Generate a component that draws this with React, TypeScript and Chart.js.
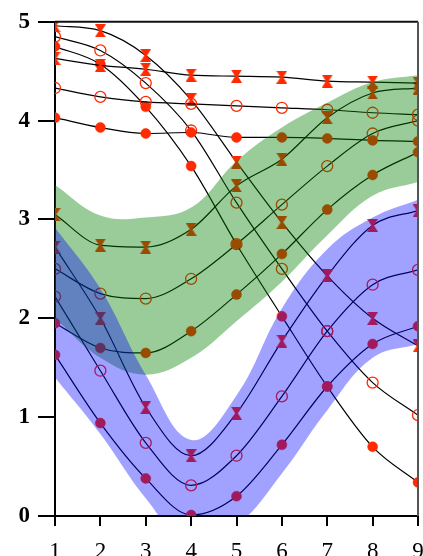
import React, { useEffect, useRef } from "react";
import { Chart, registerables } from "chart.js";

Chart.register(...registerables);

const xValues = [1, 2, 3, 4, 5, 6, 7, 8, 9];
const yTicks = [0, 1, 2, 3, 4, 5];

// upper flat curves
const flatHourglass = [4.63, 4.56, 4.52, 4.46, 4.45, 4.44, 4.4, 4.39, 4.38];
const flatCircle = [4.33, 4.24, 4.19, 4.17, 4.15, 4.13, 4.11, 4.08, 4.06];
const flatFilled = [4.03, 3.93, 3.87, 3.88, 3.83, 3.83, 3.82, 3.8, 3.79];
// falling curves
const fallHourglass = [4.96, 4.91, 4.66, 4.21, 3.58, 2.97, 2.43, 2.0, 1.72];
const fallCircle = [4.85, 4.71, 4.38, 3.9, 3.17, 2.5, 1.87, 1.35, 1.02];
const fallFilled = [4.75, 4.57, 4.14, 3.54, 2.75, 2.02, 1.31, 0.7, 0.34];
// curves in the green band
const greenHourglass = [3.05, 2.74, 2.72, 2.9, 3.34, 3.61, 4.03, 4.28, 4.33];
const greenCircle = [2.5, 2.25, 2.2, 2.4, 2.75, 3.15, 3.54, 3.87, 4.0];
const greenFilled = [1.95, 1.7, 1.65, 1.87, 2.24, 2.65, 3.1, 3.45, 3.68];
// curves in the blue band
const blueHourglass = [2.72, 2.0, 1.1, 0.61, 1.04, 1.77, 2.43, 2.94, 3.09];
const blueCircle = [2.22, 1.47, 0.74, 0.31, 0.61, 1.21, 1.87, 2.34, 2.49];
const blueFilled = [1.63, 0.94, 0.38, 0.01, 0.2, 0.72, 1.31, 1.74, 1.92];
// bands
const greenTop = [3.35, 3.04, 3.02, 3.12, 3.59, 3.93, 4.18, 4.39, 4.46];
const greenBottom = [2.0, 1.6, 1.43, 1.6, 1.97, 2.37, 2.84, 3.24, 3.38];
const blueTop = [2.92, 2.3, 1.43, 0.77, 1.22, 2.1, 2.7, 3.02, 3.2];
const blueBottom = [1.4, 0.83, 0.18, -0.3, -0.1, 0.43, 1.07, 1.6, 1.74];

const MARK = "#ff2a00";

function makeHourglass(color: string) {
  const c = document.createElement("canvas");
  c.width = 11;
  c.height = 13;
  const g = c.getContext("2d")!;
  g.fillStyle = color;
  g.beginPath();
  g.moveTo(0, 0);
  g.lineTo(11, 0);
  g.lineTo(6.5, 7);
  g.lineTo(4.5, 7);
  g.closePath();
  g.fill();
  g.beginPath();
  g.moveTo(0, 13);
  g.lineTo(11, 13);
  g.lineTo(6.5, 6);
  g.lineTo(4.5, 6);
  g.closePath();
  g.fill();
  return c;
}

function pts(arr: number[]) {
  return arr.map((y, i) => ({ x: xValues[i], y }));
}

function curve(arr: number[], kind: string, hg: HTMLCanvasElement) {
  const base: any = {
    data: pts(arr),
    borderColor: "#000",
    borderWidth: 1.2,
    cubicInterpolationMode: "monotone",
    fill: false,
    order: 3,
  };
  if (kind === "hourglass") {
    base.pointStyle = hg;
    base.pointRadius = 5;
  } else if (kind === "circle") {
    base.pointStyle = "circle";
    base.pointRadius = 5.5;
    base.pointBackgroundColor = "rgba(0,0,0,0)";
    base.pointBorderColor = MARK;
    base.pointBorderWidth = 1.3;
  } else {
    base.pointStyle = "circle";
    base.pointRadius = 5;
    base.pointBackgroundColor = MARK;
    base.pointBorderColor = MARK;
    base.pointBorderWidth = 0.5;
  }
  return base;
}

function band(arr: number[], color: string | false, order: number) {
  return {
    data: pts(arr),
    borderColor: "rgba(0,0,0,0)",
    borderWidth: 0,
    pointRadius: 0,
    tension: 0.4,
    fill: color ? "+1" : false,
    backgroundColor: color || "rgba(0,0,0,0)",
    order,
  };
}

const clipPlugin = {
  id: "clipArea",
  beforeDatasetsDraw(chart: any) {
    const { ctx, chartArea } = chart;
    ctx.save();
    ctx.beginPath();
    ctx.rect(
      chartArea.left,
      chartArea.top,
      chartArea.right - chartArea.left,
      chartArea.bottom - chartArea.top
    );
    ctx.clip();
  },
  afterDatasetsDraw(chart: any) {
    chart.ctx.restore();
  },
};

const framePlugin = {
  id: "frame",
  afterDraw(chart: any) {
    const { ctx, chartArea } = chart;
    ctx.save();
    ctx.lineWidth = 2;
    ctx.strokeStyle = "#111";
    ctx.beginPath();
    ctx.moveTo(chartArea.left, chartArea.top);
    ctx.lineTo(chartArea.right, chartArea.top);
    ctx.stroke();
    ctx.strokeStyle = "#555";
    ctx.beginPath();
    ctx.moveTo(chartArea.right, chartArea.top);
    ctx.lineTo(chartArea.right, chartArea.bottom);
    ctx.stroke();
    ctx.restore();
  },
};

export default function App() {
  const ref = useRef<HTMLCanvasElement>(null);
  useEffect(() => {
    const hg = makeHourglass(MARK);
    const chart = new Chart(ref.current!, {
      type: "line",
      data: {
        datasets: [
          curve(flatHourglass, "hourglass", hg),
          curve(flatCircle, "circle", hg),
          curve(flatFilled, "filled", hg),
          curve(fallHourglass, "hourglass", hg),
          curve(fallCircle, "circle", hg),
          curve(fallFilled, "filled", hg),
          curve(greenHourglass, "hourglass", hg),
          curve(greenCircle, "circle", hg),
          curve(greenFilled, "filled", hg),
          curve(blueHourglass, "hourglass", hg),
          curve(blueCircle, "circle", hg),
          curve(blueFilled, "filled", hg),
          band(greenTop, "rgba(0,128,0,0.4)", 2),
          band(greenBottom, false, 2),
          band(blueTop, "rgba(0,0,255,0.37)", 1),
          band(blueBottom, false, 1),
        ] as any,
      },
      options: {
        animation: false,
        responsive: true,
        maintainAspectRatio: false,
        devicePixelRatio: 1,
        layout: { padding: { top: 18, right: 5, left: 0, bottom: 0 }, autoPadding: false },
        plugins: {
          legend: { display: false },
          tooltip: { enabled: false },
          filler: { propagate: false },
        },
        scales: {
          x: {
            type: "linear",
            min: 1,
            max: 9,
            afterBuildTicks: (s: any) => {
              s.ticks = xValues.map((v) => ({ value: v }));
            },
            afterFit: (s: any) => {
              s.height = 40;
              s.paddingLeft = 0;
              s.paddingRight = 0;
            },
            grid: {
              drawOnChartArea: false,
              drawTicks: true,
              tickLength: 10,
              color: "#000",
              lineWidth: 2,
            },
            border: { display: true, color: "#000", width: 2 },
            ticks: {
              color: "#000",
              padding: 12,
              maxRotation: 0,
              autoSkip: false,
              font: { family: "'Liberation Serif', 'DejaVu Serif', serif", size: 23 },
            },
          },
          y: {
            type: "linear",
            min: 0,
            max: 5,
            afterBuildTicks: (s: any) => {
              s.ticks = yTicks.map((v) => ({ value: v }));
            },
            afterFit: (s: any) => {
              s.width = 55;
            },
            grid: {
              drawOnChartArea: false,
              drawTicks: true,
              tickLength: 17,
              color: "#000",
              lineWidth: 2,
            },
            border: { display: true, color: "#000", width: 2 },
            ticks: {
              color: "#000",
              padding: 8,
              font: { family: "'Liberation Serif', 'DejaVu Serif', serif", size: 23, weight: "bold" },
            },
          },
        },
      } as any,
      plugins: [clipPlugin, framePlugin],
    });
    return () => chart.destroy();
  }, []);
  return (
    <div style={{ position: "absolute", left: 0, top: 0, width: 423, height: 556 }}>
      <canvas ref={ref} />
    </div>
  );
}
